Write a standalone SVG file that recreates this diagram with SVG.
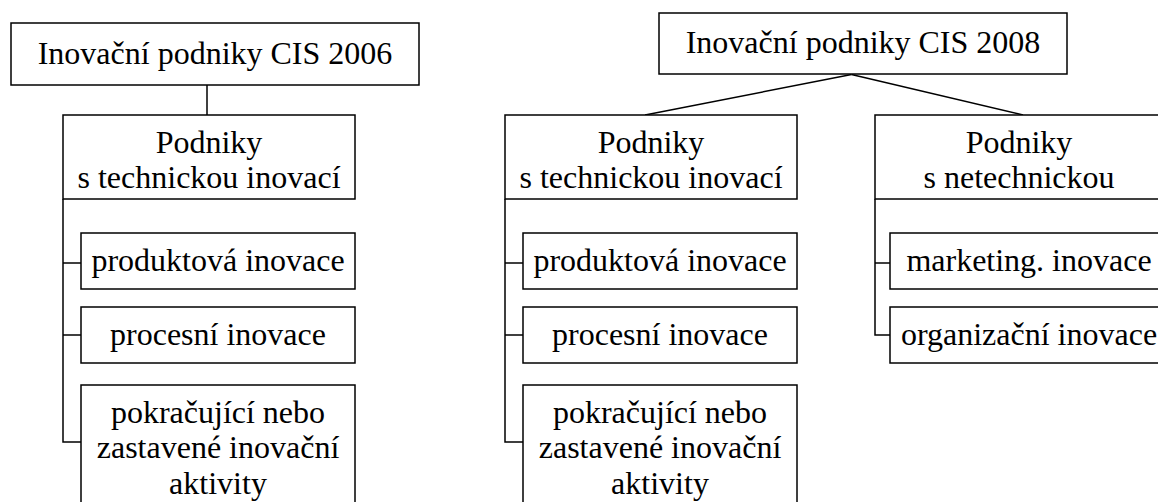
<svg xmlns="http://www.w3.org/2000/svg" width="1158" height="502" viewBox="0 0 1158 502">
<style>
rect{fill:#fff;stroke:#000;stroke-width:1.5}
line,polyline{stroke:#000;stroke-width:1.5;fill:none}
text{font-size:32px;fill:#000;text-anchor:middle}
</style>
<rect x="0" y="0" width="1158" height="502" style="fill:#fff;stroke:none"/>
<g id="connectors">
<line x1="207" y1="85" x2="207" y2="115"/>
<polyline points="63,199 63,442 81,442"/>
<line x1="63" y1="263" x2="81" y2="263"/>
<line x1="63" y1="335" x2="81" y2="335"/>
<line x1="851.5" y1="74.5" x2="645" y2="115"/>
<line x1="851.5" y1="74.5" x2="1023" y2="115"/>
<polyline points="505,199 505,442 523,442"/>
<line x1="505" y1="263" x2="523" y2="263"/>
<line x1="505" y1="335" x2="523" y2="335"/>
<polyline points="875,199 875,335 890,335"/>
<line x1="875" y1="263" x2="890" y2="263"/>
</g>
<g font-family="Liberation Serif, Times New Roman, Tinos, Noto Serif, serif">
<g id="cis2006"><rect x="11" y="23" width="408" height="62"/><text x="215" y="64">Inovační podniky CIS 2006</text></g>
<g id="tech2006"><rect x="63" y="115" width="292" height="84"/><text x="209" y="153">Podniky</text><text x="209" y="188">s technickou inovací</text></g>
<g id="prod2006"><rect x="81" y="233" width="274" height="56"/><text x="218" y="271">produktová inovace</text></g>
<g id="proc2006"><rect x="81" y="307" width="274" height="56"/><text x="218" y="345">procesní inovace</text></g>
<g id="pokr2006"><rect x="81" y="385" width="274" height="130"/><text x="218" y="423">pokračující nebo</text><text x="218" y="458">zastavené inovační</text><text x="218" y="494">aktivity</text></g>
<g id="cis2008"><rect x="659" y="13" width="408" height="61"/><text x="863" y="53">Inovační podniky CIS 2008</text></g>
<g id="tech2008"><rect x="505" y="115" width="292" height="84"/><text x="651" y="153">Podniky</text><text x="651" y="188">s technickou inovací</text></g>
<g id="prod2008"><rect x="523" y="233" width="274" height="56"/><text x="660" y="271">produktová inovace</text></g>
<g id="proc2008"><rect x="523" y="307" width="274" height="56"/><text x="660" y="345">procesní inovace</text></g>
<g id="pokr2008"><rect x="523" y="385" width="274" height="130"/><text x="660" y="423">pokračující nebo</text><text x="660" y="458">zastavené inovační</text><text x="660" y="494">aktivity</text></g>
<g id="netech"><rect x="875" y="115" width="300" height="84"/><text x="1019" y="153">Podniky</text><text x="1019" y="188">s netechnickou</text></g>
<g id="mark"><rect x="890" y="233" width="290" height="56"/><text x="1029" y="271">marketing. inovace</text></g>
<g id="org"><rect x="890" y="307" width="290" height="56"/><text x="1029" y="345">organizační inovace</text></g>
</g>
</svg>
